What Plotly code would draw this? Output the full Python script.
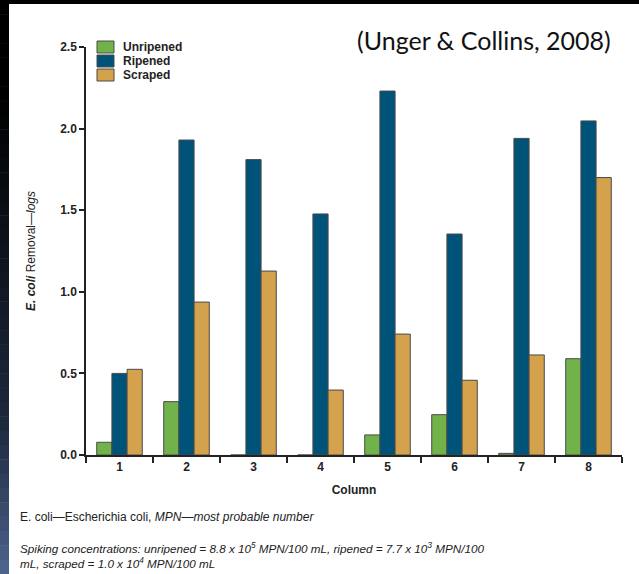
import plotly.graph_objects as go

columns = ["1", "2", "3", "4", "5", "6", "7", "8"]
unripened = [0.078, 0.327, 0.0, 0.0, 0.123, 0.247, 0.01, 0.59]
ripened = [0.50, 1.93, 1.81, 1.477, 2.23, 1.354, 1.94, 2.047]
scraped = [0.525, 0.937, 1.127, 0.398, 0.741, 0.458, 0.613, 1.70]
y_ticks = [0.0, 0.5, 1.0, 1.5, 2.0, 2.5]

series = [
    ("Unripened", unripened, "#72B24B"),
    ("Ripened", ripened, "#005378"),
    ("Scraped", scraped, "#D4A14C"),
]

W, H = 639, 574
L, R, T, B = 86, 17, 47, 119
PW, PH = W - L - R, H - T - B

fig = go.Figure()
for name, vals, col in series:
    fig.add_trace(go.Bar(
        x=columns, y=vals, name=name, showlegend=False,
        marker=dict(color=col, line=dict(color="#4a4a4a", width=1)),
    ))

def px_to_paper_x(px):
    return (px - L) / PW

def px_to_paper_y(py):
    return (H - B - py) / PH

shapes = []
annotations = []

# legend (drawn as swatches + labels)
for i, (name, vals, col) in enumerate(series):
    cy = 47 + 14 * i
    shapes.append(dict(type="rect", xref="paper", yref="paper",
                       x0=px_to_paper_x(97), x1=px_to_paper_x(114),
                       y0=px_to_paper_y(cy - 6), y1=px_to_paper_y(cy + 6),
                       fillcolor=col, line=dict(color="#4a4a4a", width=1)))
    annotations.append(dict(text="<b>%s</b>" % name, xref="paper", yref="paper",
                            x=px_to_paper_x(121), y=px_to_paper_y(cy),
                            xanchor="left", yanchor="middle", showarrow=False,
                            font=dict(family="Liberation Sans", size=12, color="#222222")))

# top black band
shapes.append(dict(type="rect", xref="paper", yref="paper",
                   x0=px_to_paper_x(-2), x1=px_to_paper_x(W + 2),
                   y0=px_to_paper_y(-3), y1=px_to_paper_y(4),
                   fillcolor="#000000", line=dict(width=0), layer="above"))
# left gradient strip
n = 40
c_top = (0, 0, 0)
c_mid = (30, 42, 62)
c_bot = (75, 98, 138)
for i in range(n):
    t = i / (n - 1)
    if t < 0.15:
        c = c_top
    elif t < 0.75:
        u = (t - 0.15) / 0.6
        c = tuple(int(c_top[k] + (c_mid[k] - c_top[k]) * u) for k in range(3))
    else:
        u = (t - 0.75) / 0.25
        c = tuple(int(c_mid[k] + (c_bot[k] - c_mid[k]) * u) for k in range(3))
    y0p = H * i / n
    y1p = H * (i + 1) / n + 0.5
    shapes.append(dict(type="rect", xref="paper", yref="paper",
                       x0=px_to_paper_x(-2), x1=px_to_paper_x(9),
                       y0=px_to_paper_y(y0p), y1=px_to_paper_y(y1p),
                       fillcolor="rgb(%d,%d,%d)" % c, line=dict(width=0), layer="above"))

annotations += [
    dict(text="(Unger &amp; Collins, 2008)", xref="paper", yref="paper",
         x=px_to_paper_x(613), y=px_to_paper_y(40), xanchor="right", yanchor="middle",
         showarrow=False, font=dict(family="Lato", size=25, color="#111111")),
    dict(text="E. coli—Escherichia coli, <i>MPN—most probable number</i>",
         xref="paper", yref="paper", x=px_to_paper_x(18), y=px_to_paper_y(517),
         xanchor="left", yanchor="middle", showarrow=False,
         font=dict(family="Liberation Sans", size=12, color="#222222")),
    dict(text="<i>Spiking concentrations: unripened = 8.8 x 10<sup>5</sup> MPN/100 mL, ripened = 7.7 x 10<sup>3</sup> MPN/100<br>mL, scraped = 1.0 x 10<sup>4</sup> MPN/100 mL</i>",
         xref="paper", yref="paper", x=px_to_paper_x(18), y=px_to_paper_y(555),
         xanchor="left", yanchor="middle", align="left", showarrow=False,
         font=dict(family="Liberation Sans", size=11.7, color="#222222")),
]

fig.update_layout(
    width=W, height=H,
    margin=dict(l=L, r=R, t=T, b=B, pad=0),
    paper_bgcolor="white", plot_bgcolor="white",
    barmode="group", bargap=0.32, bargroupgap=0,
    font=dict(family="Liberation Sans", color="#222222"),
    showlegend=False,
    shapes=shapes,
    annotations=annotations,
    xaxis=dict(
        type="category", tickson="boundaries", ticks="outside", ticklen=6, tickwidth=1.5,
        tickcolor="#222222", showline=True, linecolor="#222222", linewidth=1.5,
        showgrid=False, zeroline=False,
        tickfont=dict(family="Liberation Sans", size=12, color="#222222", weight="bold"),
        title=dict(text="<b>Column</b>", standoff=12,
                   font=dict(family="Liberation Sans", size=12, color="#222222")),
    ),
    yaxis=dict(
        range=[0, 2.5], tickvals=y_ticks, tickformat=".1f",
        ticks="outside", ticklen=5, tickwidth=1.5, tickcolor="#222222",
        showline=True, linecolor="#222222", linewidth=1.5,
        showgrid=False, zeroline=False,
        tickfont=dict(family="Liberation Sans", size=12, color="#222222", weight="bold"),
        title=dict(text="<b><i>E. coli</i></b> Removal—<i>logs</i>", standoff=22,
                   font=dict(family="Liberation Sans", size=12, color="#222222")),
    ),
)

fig.write_html("out.html", config={"displayModeBar": False},
               post_script="document.body.style.margin='0';document.body.style.overflow='hidden';")
